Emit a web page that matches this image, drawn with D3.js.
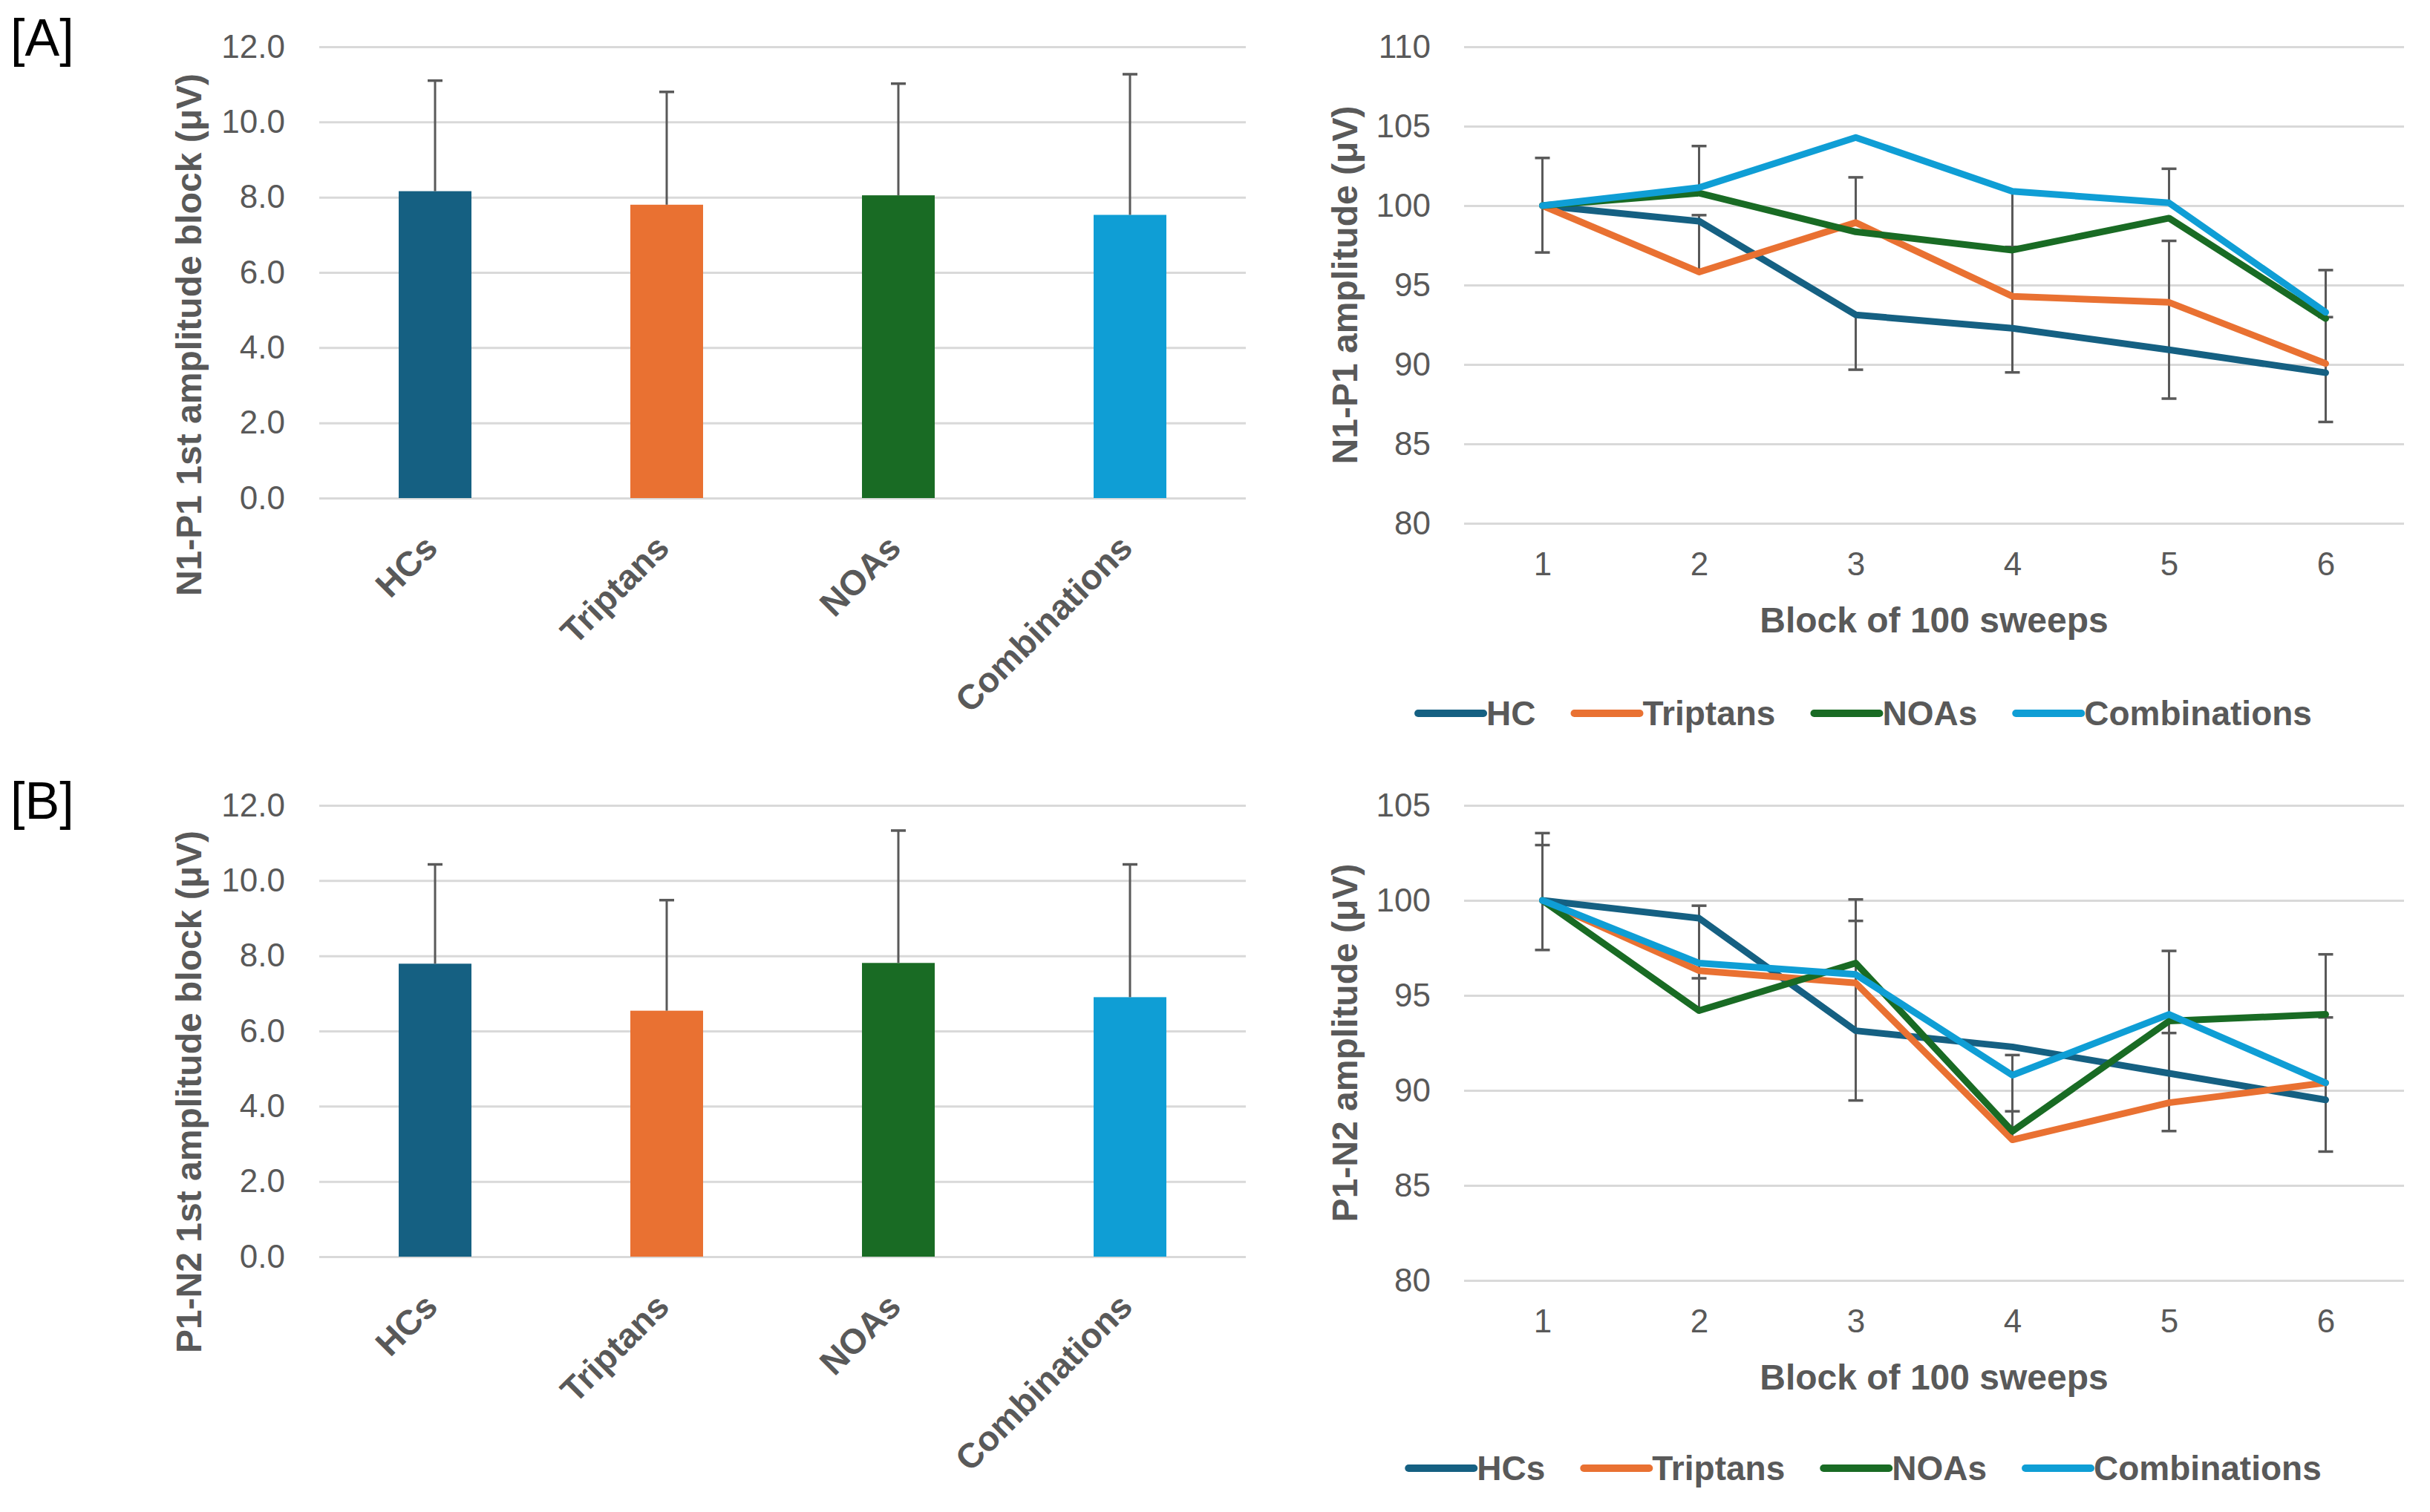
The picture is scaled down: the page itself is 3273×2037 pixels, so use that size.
<!DOCTYPE html>
<html>
<head>
<meta charset="utf-8">
<script src="https://cdn.jsdelivr.net/npm/d3@7"></script>
<style>
  body { margin: 0; background: #fff; }
  svg { display: block; background: #fff; }
</style>
</head>
<body>
<svg id="fig" width="3273" height="2037"></svg>
<script>
const FONT = '"Liberation Sans", Arial, sans-serif';
const TEXT = "#595959";
const GRID = "#d9d9d9";

// groups and colours
const groups = ["HCs", "Triptans", "NOAs", "Combinations"];
const colors = ["#156082", "#E97132", "#196B24", "#0F9ED5"];
const legendNamesA = ["HC", "Triptans", "NOAs", "Combinations"];
const legendNamesB = ["HCs", "Triptans", "NOAs", "Combinations"];
const blocks = [1, 2, 3, 4, 5, 6];

// tick values
const barTicks = [0, 2, 4, 6, 8, 10, 12];
const lineTicksA = [80, 85, 90, 95, 100, 105, 110];
const lineTicksB = [80, 85, 90, 95, 100, 105];

// bar charts: 1st block amplitude, mean and SD
const barMeanA = [8.16, 7.80, 8.05, 7.53];
const barSdA = [2.94, 3.00, 2.97, 3.74];
const barMeanB = [7.79, 6.54, 7.81, 6.90];
const barSdB = [2.64, 2.94, 3.52, 3.53];

// line charts: amplitude per block (% of block 1)
const hcA = [100, 99.02, 93.12, 92.28, 90.92, 89.48];
const triptansA = [100, 95.82, 98.93, 94.29, 93.91, 90.06];
const noasA = [100, 100.79, 98.35, 97.2, 99.21, 92.89];
const combA = [100, 101.13, 104.29, 100.9, 100.17, 93.28];

const hcB = [100, 99.06, 93.14, 92.29, 90.9, 89.5];
const triptansB = [100, 96.3, 95.65, 87.4, 89.35, 90.4];
const noasB = [100, 94.2, 96.7, 87.85, 93.65, 94.0];
const combB = [100, 96.7, 96.1, 90.8, 94.0, 90.4];

// error bars of the line charts: [block, low, high] and caps [block, value]
const errLinesA = [[1, 97.05, 103.0], [2, 95.82, 99.4], [2, 101.13, 103.75], [3, 98.93, 101.78],
  [3, 89.67, 93.12], [4, 89.5, 100.9], [5, 87.85, 97.78], [5, 100.17, 102.32], [6, 86.38, 95.94]];
const errCapsA = [[1, 103.0], [1, 97.05], [2, 103.75], [2, 99.4], [3, 101.78], [3, 89.67], [4, 89.5],
  [4, 97.4], [5, 102.32], [5, 97.78], [5, 87.85], [6, 95.94], [6, 92.98], [6, 86.38]];
const errLinesB = [[1, 97.39, 103.54], [2, 94.2, 99.72], [3, 89.47, 100.05], [4, 87.4, 91.86],
  [5, 87.86, 97.34], [6, 86.78, 97.16]];
const errCapsB = [[1, 103.54], [1, 102.91], [1, 97.39], [2, 99.72], [2, 95.9], [3, 100.05], [3, 98.92],
  [3, 89.47], [4, 91.86], [4, 88.9], [5, 97.34], [5, 93.02], [5, 87.86], [6, 97.16], [6, 93.84], [6, 86.78]];

const svg = d3.select("#fig");

function styleYAxis(g) {
  g.attr("font-family", FONT).attr("font-size", 44);
  g.select(".domain").remove();
  g.selectAll(".tick line").attr("stroke", GRID).attr("stroke-width", 3);
  g.selectAll(".tick text").attr("fill", TEXT);
}

function drawBars(cfg) {
  const g = svg.append("g");
  const x = d3.scaleBand().domain(groups).range([cfg.left, cfg.right])
    .paddingInner(0.686).paddingOuter(0.343);
  const y = d3.scaleLinear().domain([0, 12]).range([cfg.bottom, cfg.top]);

  g.append("g")
    .attr("transform", `translate(${cfg.left},0)`)
    .call(d3.axisLeft(y).tickValues(barTicks).tickFormat(d3.format(".1f"))
      .tickSize(-(cfg.right - cfg.left)).tickPadding(46))
    .call(styleYAxis);

  const rows = groups.map((k, i) => ({ key: k, mean: cfg.means[i], sd: cfg.sds[i], color: colors[i] }));

  g.selectAll(".bar").data(rows).join("rect")
    .attr("class", "bar")
    .attr("x", d => x(d.key))
    .attr("width", x.bandwidth())
    .attr("y", d => y(d.mean))
    .attr("height", d => y(0) - y(d.mean))
    .attr("fill", d => d.color);

  const cx = d => x(d.key) + x.bandwidth() / 2;
  g.selectAll(".err").data(rows).join("line")
    .attr("x1", cx).attr("x2", cx)
    .attr("y1", d => y(d.mean)).attr("y2", d => y(d.mean + d.sd))
    .attr("stroke", TEXT).attr("stroke-width", 3);
  g.selectAll(".cap").data(rows).join("line")
    .attr("x1", d => cx(d) - 10).attr("x2", d => cx(d) + 10)
    .attr("y1", d => y(d.mean + d.sd)).attr("y2", d => y(d.mean + d.sd))
    .attr("stroke", TEXT).attr("stroke-width", 3.5);

  g.selectAll(".cat").data(rows).join("text")
    .attr("transform", d => `translate(${cx(d) + 6},${cfg.bottom + 70}) rotate(-45)`)
    .attr("text-anchor", "end")
    .attr("font-family", FONT).attr("font-size", 47).attr("font-weight", "bold")
    .attr("fill", TEXT)
    .text(d => d.key);

  g.append("text")
    .attr("transform", `translate(${cfg.titleX},${cfg.titleY}) rotate(-90)`)
    .attr("text-anchor", "middle").attr("dy", "0.35em")
    .attr("font-family", FONT).attr("font-size", 48).attr("font-weight", "bold")
    .attr("fill", TEXT)
    .text(cfg.title);
}

function drawLines(cfg) {
  const g = svg.append("g");
  const x = d3.scalePoint().domain(blocks).range([cfg.left, cfg.right]).padding(0.5);
  const y = d3.scaleLinear().domain([80, d3.max(cfg.ticks)]).range([cfg.bottom, cfg.top]);

  g.append("g")
    .attr("transform", `translate(${cfg.left},0)`)
    .call(d3.axisLeft(y).tickValues(cfg.ticks).tickFormat(d3.format("d"))
      .tickSize(-(cfg.right - cfg.left)).tickPadding(45))
    .call(styleYAxis);

  g.append("g")
    .attr("transform", `translate(0,${cfg.bottom})`)
    .call(d3.axisBottom(x).tickSize(0))
    .call(a => {
      a.attr("font-family", FONT).attr("font-size", 44);
      a.select(".domain").remove();
      a.selectAll(".tick text").attr("fill", TEXT).attr("y", 55).attr("dy", "0.35em");
    });

  // error bars
  g.selectAll(".eline").data(cfg.errLines).join("line")
    .attr("x1", d => x(d[0])).attr("x2", d => x(d[0]))
    .attr("y1", d => y(d[1])).attr("y2", d => y(d[2]))
    .attr("stroke", TEXT).attr("stroke-width", 3);
  g.selectAll(".ecap").data(cfg.errCaps).join("line")
    .attr("x1", d => x(d[0]) - 10).attr("x2", d => x(d[0]) + 10)
    .attr("y1", d => y(d[1])).attr("y2", d => y(d[1]))
    .attr("stroke", TEXT).attr("stroke-width", 3.5);

  const line = d3.line().x((d, i) => x(blocks[i])).y(d => y(d));
  g.selectAll(".series").data(cfg.series).join("path")
    .attr("d", d => line(d))
    .attr("fill", "none")
    .attr("stroke", (d, i) => colors[i])
    .attr("stroke-width", 9)
    .attr("stroke-linejoin", "round")
    .attr("stroke-linecap", "round");

  g.append("text")
    .attr("transform", `translate(${cfg.titleX},${(cfg.top + cfg.bottom) / 2}) rotate(-90)`)
    .attr("text-anchor", "middle").attr("dy", "0.35em")
    .attr("font-family", FONT).attr("font-size", 48).attr("font-weight", "bold")
    .attr("fill", TEXT)
    .text(cfg.title);

  g.append("text")
    .attr("x", (cfg.left + cfg.right) / 2).attr("y", cfg.xTitleY)
    .attr("text-anchor", "middle").attr("dy", "0.35em")
    .attr("font-family", FONT).attr("font-size", 48).attr("font-weight", "bold")
    .attr("fill", TEXT)
    .text("Block of 100 sweeps");

  // legend
  const lg = g.append("g");
  const items = cfg.legend.map((name, i) => {
    const it = lg.append("g");
    it.append("line").attr("x1", 0).attr("x2", 88).attr("y1", 0).attr("y2", 0)
      .attr("stroke", colors[i]).attr("stroke-width", 10).attr("stroke-linecap", "round");
    const t = it.append("text").attr("x", 92).attr("dy", "0.35em")
      .attr("font-family", FONT).attr("font-size", 46).attr("font-weight", "bold")
      .attr("fill", TEXT).text(name);
    return { it, w: 92 + t.node().getComputedTextLength() };
  });
  const gap = 52;
  const total = d3.sum(items, d => d.w) + gap * (items.length - 1);
  let cur = cfg.legendCx - total / 2;
  items.forEach(d => {
    d.it.attr("transform", `translate(${cur},${cfg.legendY})`);
    cur += d.w + gap;
  });
}

drawBars({ left: 430, right: 1678, top: 63, bottom: 671, means: barMeanA, sds: barSdA,
  title: "N1-P1 1st amplitude block (\u03bcV)", titleX: 254, titleY: 451 });
drawBars({ left: 430, right: 1678, top: 1085, bottom: 1693, means: barMeanB, sds: barSdB,
  title: "P1-N2 1st amplitude block (\u03bcV)", titleX: 254, titleY: 1471 });

drawLines({ left: 1972, right: 3238, top: 63, bottom: 705, ticks: lineTicksA,
  series: [hcA, triptansA, noasA, combA], errLines: errLinesA, errCaps: errCapsA,
  title: "N1-P1 amplitude (\u03bcV)", titleX: 1811, xTitleY: 835,
  legend: legendNamesA, legendY: 961, legendCx: 2512 });
drawLines({ left: 1972, right: 3238, top: 1085, bottom: 1725, ticks: lineTicksB,
  series: [hcB, triptansB, noasB, combB], errLines: errLinesB, errCaps: errCapsB,
  title: "P1-N2 amplitude (\u03bcV)", titleX: 1811, xTitleY: 1855,
  legend: legendNamesB, legendY: 1978, legendCx: 2512 });

// panel letters
svg.append("text").attr("x", 14).attr("y", 75)
  .attr("font-family", FONT).attr("font-size", 70).attr("fill", "#000").text("[A]");
svg.append("text").attr("x", 14).attr("y", 1103)
  .attr("font-family", FONT).attr("font-size", 70).attr("fill", "#000").text("[B]");
</script>
</body>
</html>
